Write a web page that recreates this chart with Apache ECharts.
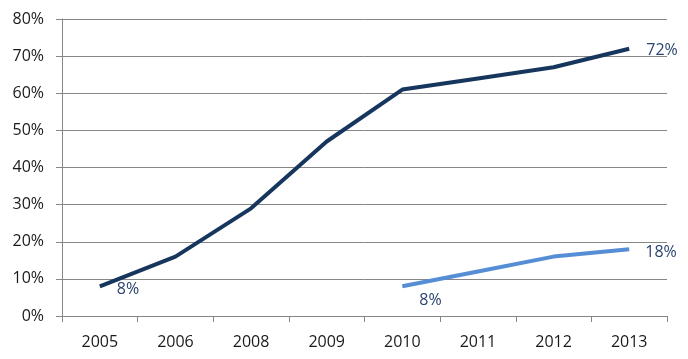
<!DOCTYPE html>
<html><head><meta charset="utf-8">
<script src="https://cdn.jsdelivr.net/npm/echarts@6/dist/echarts.min.js"></script>
<style>html,body{margin:0;padding:0;background:#fff}#c{width:688px;height:359px}</style>
</head><body><div id="c"></div>
<script>
const categories = ['2005','2006','2008','2009','2010','2011','2012','2013'];
const seriesA = [8, 16, 29, 47, 61, 64, 67, 72];
const seriesB = [null, null, null, null, 8, 12, 16, 18];
const yTicks = [0, 10, 20, 30, 40, 50, 60, 70, 80];

const font = 'Open Sans';
const labelColor = '#2A4470';
function endLabels(data, firstOffset, lastOffset) {
  const first = data.findIndex(v => v != null);
  const last = data.length - 1;
  return data.map((v, i) => {
    if (i === first) return {value: v, label: {show: true, position: 'right', offset: firstOffset}};
    if (i === last) return {value: v, label: {show: true, position: 'right', offset: lastOffset}};
    return v;
  });
}
const chart = echarts.init(document.getElementById('c'), null, {renderer: 'canvas'});
chart.setOption({
  animation: false,
  grid: {left: 62, right: 21, top: 19, bottom: 43},
  xAxis: {
    type: 'category', data: categories, boundaryGap: true,
    axisLine: {lineStyle: {color: '#868686', width: 1}},
    axisTick: {show: true, length: 6, lineStyle: {color: '#868686'}},
    axisLabel: {color: '#1a1a1a', fontFamily: font, fontSize: 16, margin: 18}
  },
  yAxis: {
    type: 'value', min: yTicks[0], max: yTicks[yTicks.length - 1], interval: 10,
    axisLine: {show: true, lineStyle: {color: '#868686', width: 1}},
    axisTick: {show: true, length: 6, lineStyle: {color: '#868686'}},
    splitLine: {lineStyle: {color: '#868686', width: 1}},
    axisLabel: {color: '#1a1a1a', fontFamily: font, fontSize: 16, margin: 18, formatter: v => v + '%'}
  },
  series: [
    {
      type: 'line', data: endLabels(seriesA, [12, 3], [12, 2]),
      showSymbol: true, symbol: 'circle', symbolSize: 0.1,
      lineStyle: {color: '#17365D', width: 4}, itemStyle: {color: '#17365D'},
      label: {show: false, color: labelColor, fontFamily: font, fontSize: 16, formatter: p => p.value + '%'}
    },
    {
      type: 'line', data: endLabels(seriesB, [12, 14], [11, 3]),
      connectNulls: false, showSymbol: true, symbol: 'circle', symbolSize: 0.1,
      lineStyle: {color: '#558ED5', width: 4}, itemStyle: {color: '#558ED5'},
      label: {show: false, color: labelColor, fontFamily: font, fontSize: 16, formatter: p => p.value + '%'}
    }
  ]
});
</script>
</body></html>
